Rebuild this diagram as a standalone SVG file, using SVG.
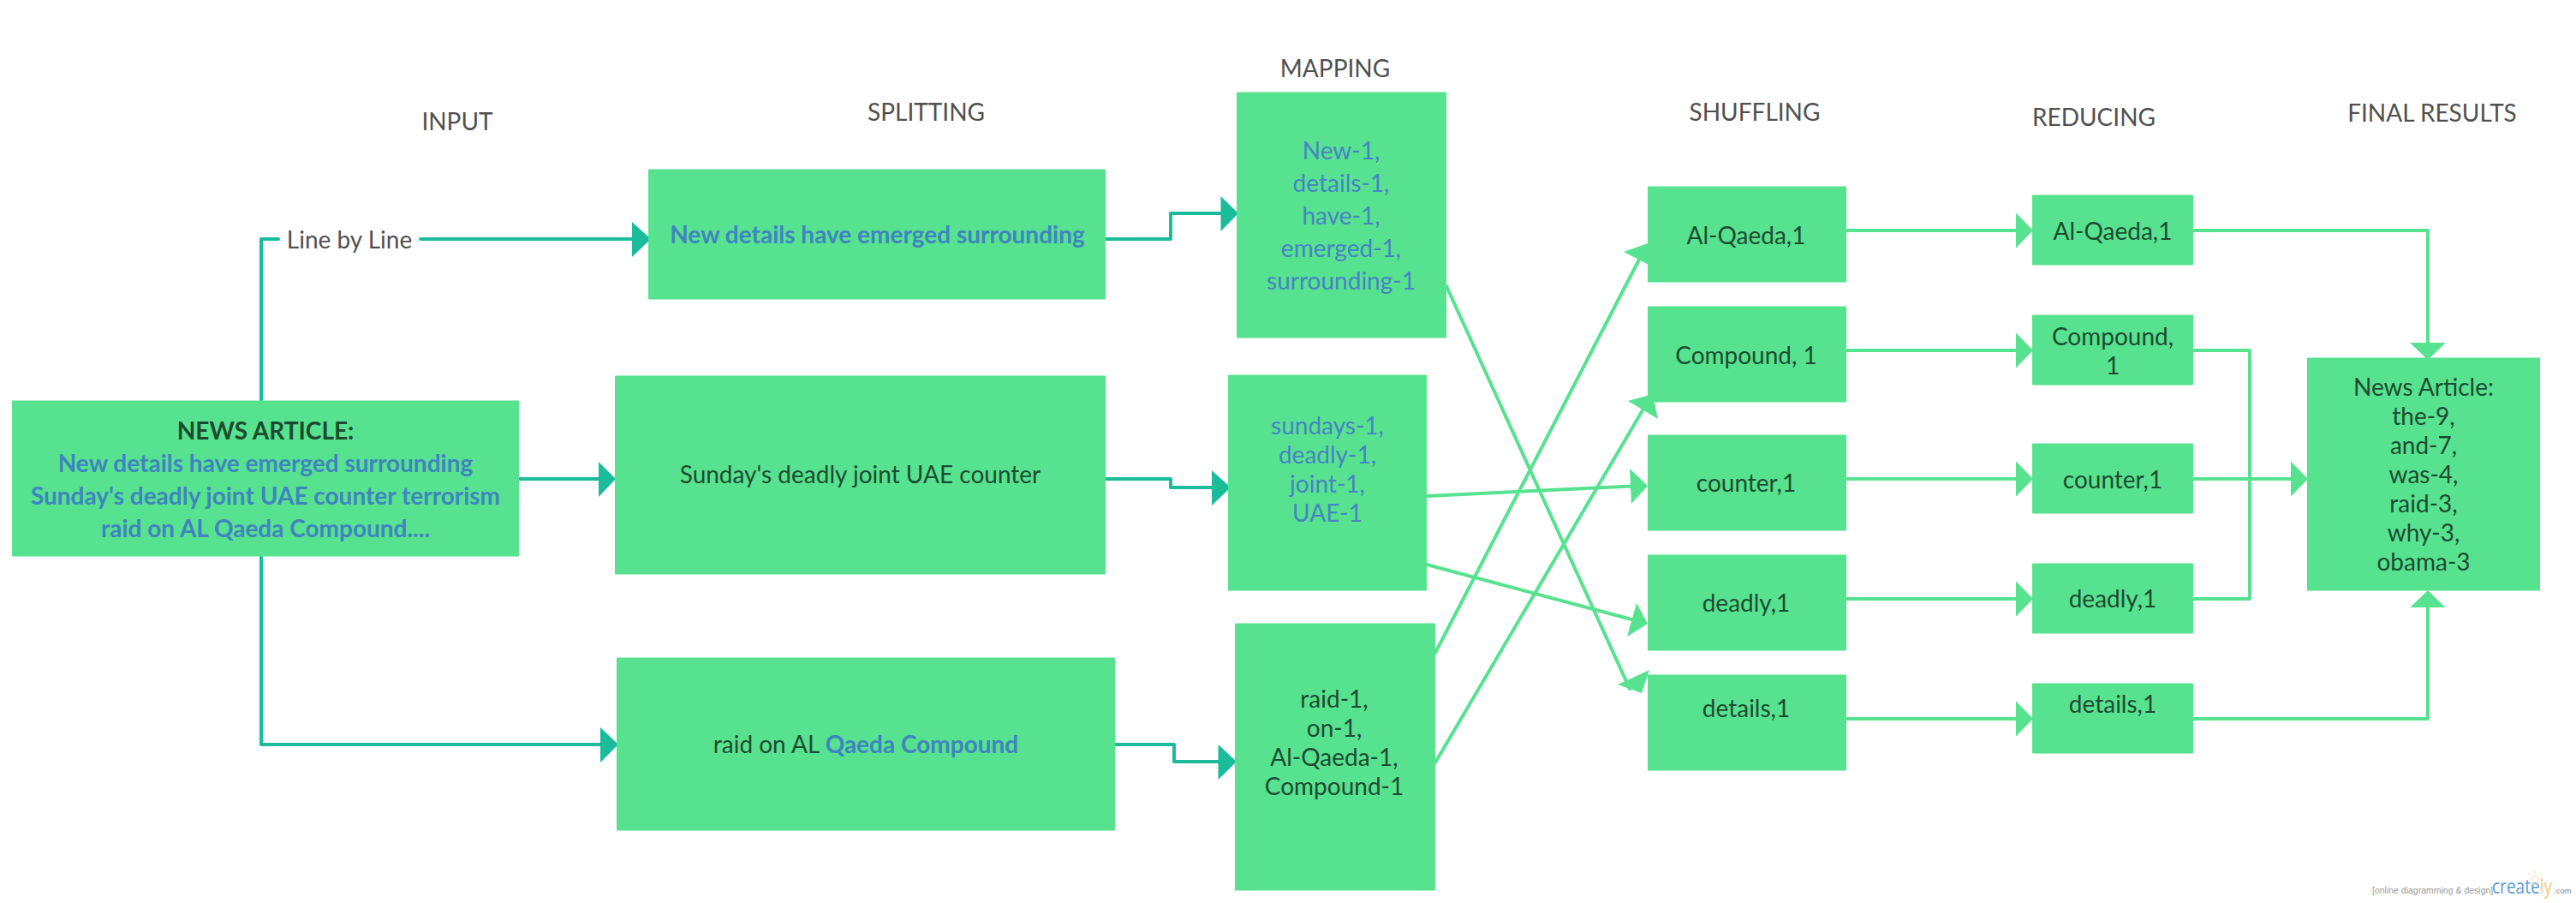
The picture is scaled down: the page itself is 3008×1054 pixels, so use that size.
<svg xmlns="http://www.w3.org/2000/svg" width="3008" height="1054" viewBox="0 0 3008 1054">
<style>
text{font-family:Lato,"Open Sans","Liberation Sans",sans-serif;font-size:28px;text-anchor:middle;fill:#1d4b30}
.h{fill:#505050}
.b{fill:#4684c4}
.sb{font-weight:700;fill:#4084c0}
.box{fill:#56e28f}
.t{fill:none;stroke:#1abc9c;stroke-width:4;stroke-linejoin:round;stroke-linecap:round}
.ta{fill:#1abc9c}
.g{fill:none;stroke:#56e28f;stroke-width:4;stroke-linejoin:round;stroke-linecap:round}
.ga{fill:#56e28f}
</style>
<rect width="3008" height="1054" fill="#fff"/>
<g id="headings">
<text class="h" x="534" y="152">INPUT</text>
<text class="h" x="1081.5" y="141">SPLITTING</text>
<text class="h" x="1559" y="89.5">MAPPING</text>
<text class="h" x="2049" y="141">SHUFFLING</text>
<text class="h" x="2445" y="147">REDUCING</text>
<text class="h" x="2840" y="141.5">FINAL RESULTS</text>
</g>
<g id="connectors">
<path class="t" d="M305 468V279H325M491 279H740"/>
<polygon class="ta" points="738,259 760,279 738,300"/>
<path class="t" d="M604 559H702"/>
<polygon class="ta" points="699,539 719,559 699,580"/>
<path class="t" d="M305 648V869H703"/>
<polygon class="ta" points="701,849 722,869 701,890"/>
<path class="t" d="M1287 279H1367V249H1428"/>
<polygon class="ta" points="1425.500,229 1446,249 1425.500,270"/>
<path class="t" d="M1288 559H1367V569H1418"/>
<polygon class="ta" points="1415,549 1437,569 1415,590"/>
<path class="t" d="M1299 869H1371V889H1425"/>
<polygon class="ta" points="1422.500,869 1444,889 1422.500,910"/>
<path class="g" d="M1689 334L1903 804"/>
<polygon class="ga" points="1926,782 1889,799 1917,809"/>
<path class="g" d="M1666 579L1905 567.500"/>
<polygon class="ga" points="1924,567 1903,547 1905,588"/>
<path class="g" d="M1666 659L1905 723"/>
<polygon class="ga" points="1924,728 1911,704 1900,743"/>
<path class="g" d="M1676 762L1914 303"/>
<polygon class="ga" points="1924,284 1896,294 1931,312"/>
<path class="g" d="M1676 890L1918 479"/>
<polygon class="ga" points="1930,460 1901,468 1936,489"/>
<path class="g" d="M2156 269H2356M2156 409H2356M2156 559H2356M2156 699H2356M2156 839H2356"/>
<polygon class="ga" points="2354,248.500 2374,269 2354,289.500"/>
<polygon class="ga" points="2354,388.500 2374,409 2354,429.500"/>
<polygon class="ga" points="2354,538.500 2374,559 2354,579.500"/>
<polygon class="ga" points="2354,678.500 2374,699 2354,719.500"/>
<polygon class="ga" points="2354,818.500 2374,839 2354,859.500"/>
<path class="g" d="M2562 269H2835V402"/>
<polygon class="ga" points="2814,400 2856,400 2835,420"/>
<path class="g" d="M2562 409H2627V699H2562"/>
<path class="g" d="M2562 559H2677"/>
<polygon class="ga" points="2675,538.500 2695,559 2675,579.500"/>
<path class="g" d="M2562 839H2835V707"/>
<polygon class="ga" points="2814.500,709 2835,689 2855.500,709"/>
</g>
<g id="line-label"><text class="h" x="408" y="290">Line by Line</text></g>
<g id="news-article"><rect class="box" x="14" y="467.500" width="592" height="182" rx="1"/>
<text x="310" y="512.500" font-weight="700">NEWS ARTICLE:</text>
<text class="sb" x="310" y="551">New details have emerged surrounding</text>
<text class="sb" x="310" y="589">Sunday's deadly joint UAE counter terrorism</text>
<text class="sb" x="310" y="627">raid on AL Qaeda Compound....</text></g>
<g id="split-1"><rect class="box" x="757" y="197.500" width="534" height="152" rx="1"/><text class="sb" x="1024.500" y="284">New details have emerged surrounding</text></g>
<g id="split-2"><rect class="box" x="718" y="438.500" width="573" height="232" rx="1"/><text x="1004.500" y="564">Sunday's deadly joint UAE counter</text></g>
<g id="split-3"><rect class="box" x="720" y="767.500" width="582" height="202" rx="1"/><text x="1011" y="879">raid on AL <tspan class="sb">Qaeda Compound</tspan></text></g>
<g id="map-1"><rect class="box" x="1444" y="107.500" width="245" height="287" rx="1"/>
<text class="b" x="1566" y="185.500">New-1,</text><text class="b" x="1566" y="224">details-1,</text><text class="b" x="1566" y="262">have-1,</text><text class="b" x="1566" y="300">emerged-1,</text><text class="b" x="1566" y="338">surrounding-1</text></g>
<g id="map-2"><rect class="box" x="1434" y="437.500" width="232" height="252" rx="1"/>
<text class="b" x="1550" y="507">sundays-1,</text><text class="b" x="1550" y="541">deadly-1,</text><text class="b" x="1550" y="575">joint-1,</text><text class="b" x="1550" y="609">UAE-1</text></g>
<g id="map-3"><rect class="box" x="1442" y="727.500" width="234" height="312" rx="1"/>
<text x="1558" y="826">raid-1,</text><text x="1558" y="860">on-1,</text><text x="1558" y="894">Al-Qaeda-1,</text><text x="1558" y="928">Compound-1</text></g>
<g id="shuffle-1"><rect class="box" x="1924" y="217.500" width="232" height="112" rx="1"/><text x="2039" y="285">Al-Qaeda,1</text></g>
<g id="shuffle-2"><rect class="box" x="1924" y="357.500" width="232" height="112" rx="1"/><text x="2039" y="425">Compound, 1</text></g>
<g id="shuffle-3"><rect class="box" x="1924" y="507.500" width="232" height="112" rx="1"/><text x="2039" y="574">counter,1</text></g>
<g id="shuffle-4"><rect class="box" x="1924" y="647.500" width="232" height="112" rx="1"/><text x="2039" y="714">deadly,1</text></g>
<g id="shuffle-5"><rect class="box" x="1924" y="787.500" width="232" height="112" rx="1"/><text x="2039" y="837">details,1</text></g>
<g id="reduce-1"><rect class="box" x="2373" y="227.500" width="188" height="82" rx="1"/><text x="2467" y="280">Al-Qaeda,1</text></g>
<g id="reduce-2"><rect class="box" x="2373" y="367.500" width="188" height="82" rx="1"/><text x="2467" y="402.500">Compound,</text><text x="2467" y="436.500">1</text></g>
<g id="reduce-3"><rect class="box" x="2373" y="517.500" width="188" height="82" rx="1"/><text x="2467" y="570">counter,1</text></g>
<g id="reduce-4"><rect class="box" x="2373" y="657.500" width="188" height="82" rx="1"/><text x="2467" y="709">deadly,1</text></g>
<g id="reduce-5"><rect class="box" x="2373" y="797.500" width="188" height="82" rx="1"/><text x="2467" y="832">details,1</text></g>
<g id="final"><rect class="box" x="2694" y="417.500" width="272" height="272" rx="1"/>
<text x="2830" y="462">News Article:</text><text x="2830" y="496">the-9,</text><text x="2830" y="530">and-7,</text><text x="2830" y="564">was-4,</text><text x="2830" y="598">raid-3,</text><text x="2830" y="632">why-3,</text><text x="2830" y="666">obama-3</text></g>
<g id="watermark">
<text x="2770" y="1043" style="font-family:'Liberation Sans',sans-serif;font-size:10.500px;text-anchor:start;fill:#999">[online diagramming &amp; design]</text>
<text x="2910" y="1043" textLength="70" lengthAdjust="spacingAndGlyphs" style="font-family:'Open Sans',sans-serif;font-size:24px;text-anchor:start;fill:#5b9bd5">create<tspan fill="#f9c97c">ly</tspan></text>
<text x="2982" y="1043" style="font-family:'Liberation Sans',sans-serif;font-size:9.500px;text-anchor:start;fill:#888">.com</text>
<path d="M2957.500 1029a4 4 0 1 1 5 0l-.5 3h-4zM2960 1016v3M2953 1019l2 2M2967 1019l-2 2" fill="none" stroke="#f9d79a" stroke-width="1"/>
</g>
</svg>
